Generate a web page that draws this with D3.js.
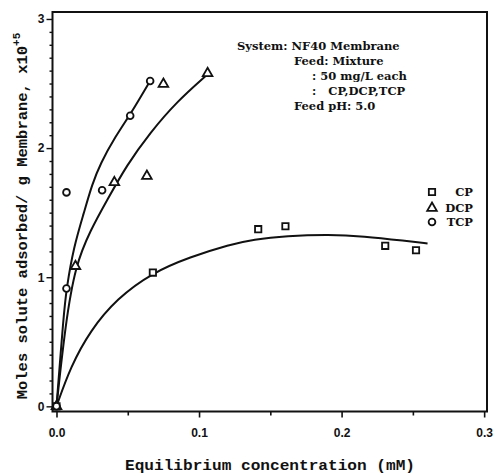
<!DOCTYPE html>
<html>
<head>
<meta charset="utf-8">
<script src="https://cdn.jsdelivr.net/npm/d3@7/dist/d3.min.js"></script>
<style>
  html, body { margin: 0; padding: 0; background: #fff; }
  svg { display: block; }
</style>
</head>
<body>
<svg id="chart" width="497" height="475"></svg>
<script>
// Measured adsorption points (x: equilibrium concentration, mM; y: moles x10^5 per g)
const cpPoints  = [[0, 0], [0.0676, 1.036], [0.1415, 1.372], [0.1606, 1.395], [0.2306, 1.243], [0.2522, 1.209]];
const dcpPoints = [[0, 0], [0.0133, 1.085], [0.0406, 1.734], [0.0634, 1.783], [0.075, 2.496], [0.106, 2.579]];
const tcpPoints = [[0, 0], [0.007, 0.912], [0.007, 1.657], [0.032, 1.674], [0.0517, 2.25], [0.0657, 2.52]];

// Fitted isotherm curves
const cpCurve  = [[0, 0], [0.0098, 0.305], [0.0238, 0.589], [0.0424, 0.835], [0.0669, 1.033], [0.0937, 1.157],
                  [0.1217, 1.253], [0.138, 1.292], [0.1613, 1.32], [0.1916, 1.331], [0.2149, 1.318], [0.2452, 1.281], [0.2603, 1.261]];
const dcpCurve = [[0, 0], [0.0063, 0.641], [0.0133, 1.093], [0.0238, 1.364], [0.0355, 1.597], [0.0494, 1.87],
                  [0.0657, 2.12], [0.0844, 2.36], [0.1054, 2.566]];
const tcpCurve = [[0, 0], [0.0051, 0.719], [0.007, 0.912], [0.0121, 1.235], [0.0191, 1.494], [0.025, 1.72],
                  [0.0308, 1.88], [0.0413, 2.09], [0.0517, 2.26], [0.0587, 2.39], [0.0657, 2.52]];

const xMajorTicks = [0, 0.1, 0.2, 0.3];
const xTickLabels = ["0.0", "0.1", "0.2", "0.3"];
const yMajorTicks = [0, 1, 2, 3];
const yTickLabels = ["0", "1", "2", "3"];

const legendNames = ["CP", "DCP", "TCP"];
const noteLines = ["System: NF40 Membrane", "Feed: Mixture", ": 50 mg/L each", ":   CP,DCP,TCP", "Feed pH: 5.0"];

const svg = d3.select("#chart");
const x = d3.scaleLinear().domain([-0.0028, 0.302]).range([52.5, 487]);
const y = d3.scaleLinear().domain([-0.04, 3.054]).range([411.5, 12]);

const ink = "#111";
const tickFont = "Liberation Sans, Arial, sans-serif";
const labelFont = "Liberation Mono, Courier New, monospace";
const noteFont = "DejaVu Serif, serif";

// x axis: major ticks with labels, minor ticks every 0.05
const xMinor = d3.range(0, 0.3001, 0.05);
const xAxis = d3.axisBottom(x).tickValues(xMinor).tickSize(4).tickFormat(d => {
  const i = xMajorTicks.findIndex(t => Math.abs(t - d) < 1e-9);
  return i >= 0 ? xTickLabels[i] : "";
});
const gx = svg.append("g").attr("transform", `translate(0,${y.range()[0]})`).call(xAxis);
gx.select(".domain").remove();
gx.selectAll(".tick line").attr("stroke", ink).attr("stroke-width", 1.6)
  .attr("y2", d => xMajorTicks.some(t => Math.abs(t - d) < 1e-9) ? 6 : 4);
gx.selectAll(".tick text").attr("y", 17).attr("font-family", tickFont).attr("font-weight", "bold")
  .attr("font-size", 12).attr("fill", ink);

// y axis: major ticks with labels, minor ticks every 0.1
const yMinor = d3.range(0, 30.01, 1).map(v => v / 10);
const yAxis = d3.axisLeft(y).tickValues(yMinor).tickSize(3).tickFormat(d => {
  const i = yMajorTicks.findIndex(t => Math.abs(t - d) < 1e-9);
  return i >= 0 ? yTickLabels[i] : "";
});
const gy = svg.append("g").attr("transform", `translate(${x.range()[0]},0)`).call(yAxis);
gy.select(".domain").remove();
gy.selectAll(".tick line").attr("stroke", ink).attr("stroke-width", 1.4)
  .attr("x2", d => yMajorTicks.some(t => Math.abs(t - d) < 1e-9) ? -6 : -3);
gy.selectAll(".tick text").attr("x", -8).attr("font-family", tickFont).attr("font-weight", "bold")
  .attr("font-size", 12).attr("fill", ink);

// plot frame
svg.append("rect")
  .attr("x", x.range()[0]).attr("y", y.range()[1])
  .attr("width", x.range()[1] - x.range()[0]).attr("height", y.range()[0] - y.range()[1])
  .attr("fill", "none").attr("stroke", ink).attr("stroke-width", 2);

// fitted curves
const line = d3.line().x(d => x(d[0])).y(d => y(d[1])).curve(d3.curveBasis);
[cpCurve, dcpCurve, tcpCurve].forEach(c => {
  svg.append("path").attr("d", line(c)).attr("fill", "none").attr("stroke", ink).attr("stroke-width", 2);
});

// markers
const shapes = [d3.symbolSquare, d3.symbolTriangle, d3.symbolCircle];
const sizes = [40, 40, 36];
const sym = i => d3.symbol().type(shapes[i]).size(sizes[i]);
[cpPoints, dcpPoints, tcpPoints].forEach((pts, i) => {
  svg.append("g").selectAll("path").data(pts).join("path")
    .attr("transform", d => `translate(${x(d[0])},${y(d[1])})`)
    .attr("d", sym(i)())
    .attr("fill", "#fff").attr("stroke", ink).attr("stroke-width", 1.8);
});

// legend
const legendY = [192, 208, 222];
legendNames.forEach((name, i) => {
  svg.append("path").attr("transform", `translate(432,${legendY[i]})`).attr("d", sym(i)())
    .attr("fill", "#fff").attr("stroke", ink).attr("stroke-width", 1.8);
  svg.append("text").attr("x", 473).attr("y", legendY[i] + 4).attr("text-anchor", "end")
    .attr("font-family", noteFont).attr("font-weight", "bold").attr("font-size", 11.5)
    .attr("fill", ink).text(name);
});

// system notes
const noteX = [237, 294, 312, 312, 294];
const noteY = [50, 65, 80, 95, 110];
noteLines.forEach((t, i) => {
  svg.append("text").attr("x", noteX[i]).attr("y", noteY[i]).attr("xml:space", "preserve")
    .style("white-space", "pre")
    .attr("font-family", noteFont).attr("font-weight", "bold").attr("font-size", 11.5)
    .attr("fill", ink).text(t);
});

// axis titles
svg.append("text").attr("x", 270).attr("y", 470).attr("text-anchor", "middle")
  .attr("font-family", labelFont).attr("font-weight", "bold").attr("font-size", 15)
  .attr("textLength", 290).attr("lengthAdjust", "spacingAndGlyphs")
  .attr("fill", ink).text("Equilibrium concentration (mM)");

const yTitle = svg.append("text").attr("transform", "translate(27,216) rotate(-90)")
  .attr("text-anchor", "middle")
  .attr("font-family", labelFont).attr("font-weight", "bold").attr("font-size", 15.5)
  .attr("fill", ink);
yTitle.append("tspan").text("Moles solute adsorbed/ g Membrane, x10");
yTitle.append("tspan").attr("dy", -7).attr("font-size", 11).text("+5");
</script>
</body>
</html>
